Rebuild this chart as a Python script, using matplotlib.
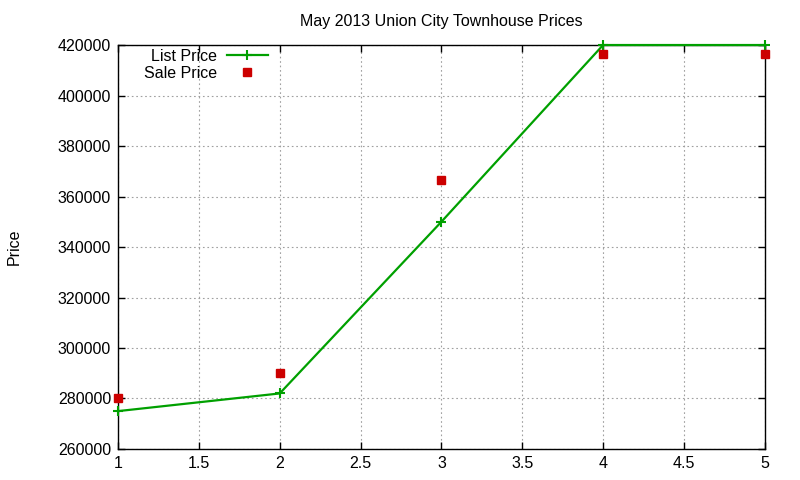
import matplotlib
matplotlib.use("Agg")
import matplotlib.pyplot as plt

# May 2013 Union City townhouse prices
bedrooms = [1, 2, 3, 4, 5]
list_price = [275000, 282000, 350000, 420000, 420000]
sale_price = [280000, 290000, 366500, 416500, 416500]

xticks = [1, 1.5, 2, 2.5, 3, 3.5, 4, 4.5, 5]
xtick_labels = ["1", "1.5", "2", "2.5", "3", "3.5", "4", "4.5", "5"]
yticks = list(range(260000, 420001, 20000))


def main():
    plt.rcParams['font.family'] = ['Liberation Sans', 'DejaVu Sans']
    fs = 11.5

    fig = plt.figure(figsize=(8, 4.8), dpi=100)
    ax = fig.add_axes([0.1475, 0.0646, 0.8085, 0.8416])

    ax.plot(bedrooms, list_price, color='#00a000', lw=1.6, marker='+',
            markersize=7, mew=1.5, label='List Price', clip_on=False, zorder=3)
    ax.plot(bedrooms, sale_price, color='#cc0000', ls='none', marker='s',
            markersize=6, label='Sale Price', clip_on=False, zorder=4)

    ax.set_xlim(1, 5)
    ax.set_ylim(260000, 420000)
    ax.set_xticks(xticks)
    ax.set_xticklabels(xtick_labels)
    ax.set_yticks(yticks)
    ax.set_yticklabels([str(v) for v in yticks])

    ax.grid(True, color='#a0a0a0', ls=(0, (1.5, 2.5)), lw=0.8)
    ax.tick_params(direction='in', top=True, right=True, length=5, width=1,
                   labelsize=fs, pad=5)
    for s in ax.spines.values():
        s.set_linewidth(1.0)

    ax.set_ylabel('Price', fontsize=fs, labelpad=26)
    ax.set_title('May 2013 Union City Townhouse Prices', fontsize=fs, pad=14)

    ax.legend(loc='upper left', bbox_to_anchor=(0.03, 1.006), frameon=False,
              markerfirst=False, handlelength=2.6, handletextpad=0.6,
              labelspacing=0.1, fontsize=fs, borderaxespad=0.0)

    fig.savefig('out.png', dpi=100)


if __name__ == '__main__':
    main()
